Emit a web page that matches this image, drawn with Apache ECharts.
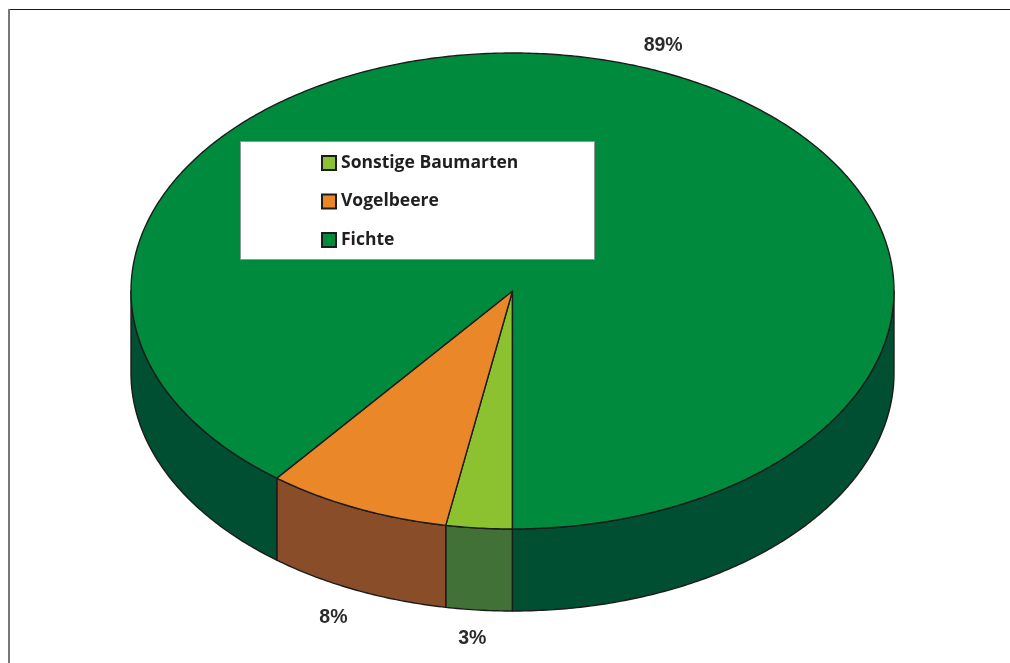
<!DOCTYPE html>
<html><head><meta charset="utf-8">
<style>html,body{margin:0;padding:0;background:#fff}#c{width:1010px;height:663px}</style>
<script src="https://cdn.jsdelivr.net/npm/echarts@6/dist/echarts.min.js"></script>
</head><body><div id="c"></div>
<script>
const categories = ['Sonstige Baumarten', 'Vogelbeere', 'Fichte'];
const values = [2.8, 7.8, 89.4];
const percentLabels = ['3%', '8%', '89%'];
const topColors = ['#8cc22f', '#ea8729', '#008a3e'];
const sideColors = ['#417136', '#8a4d2a', '#004f33'];

const CX = 512.5, CY = 291, RX = 381.5, RY = 238, DEPTH = 82;
const EDGE = '#1c1c1c';
const LABEL_NUDGE = [[0, 2], [8, 4], [1, 4]];
const total = values.reduce((a, b) => a + b, 0);
const pt = (t, dy) => [CX - RX * Math.sin(t), CY + RY * Math.cos(t) + (dy || 0)];

function arc(a, b) {
  const n = Math.max(2, Math.ceil((b - a) / 0.01)), out = [];
  for (let i = 0; i <= n; i++) out.push(a + (b - a) * i / n);
  return out;
}
function sideFace(a, b) {
  const ts = arc(a, b);
  return {
    type: 'polygon',
    shape: { points: ts.map(t => pt(t)).concat(ts.slice().reverse().map(t => pt(t, DEPTH))) },
    silent: true
  };
}
function makeRender(idx) {
  return function () {
    const before = values.slice(0, idx).reduce((a, b) => a + b, 0);
    const a = before / total * 2 * Math.PI;
    const b = (before + values[idx]) / total * 2 * Math.PI;
    const kids = [];
    const Q = Math.PI / 2, T = 3 * Math.PI / 2;
    const ranges = [[a, Math.min(b, Q)], [Math.max(a, T), b]];
    ranges.forEach(r => {
      if (r[1] > r[0]) {
        const f = sideFace(r[0], r[1]);
        f.style = { fill: sideColors[idx], stroke: EDGE, lineWidth: 1.4, lineJoin: 'round' };
        kids.push(f);
      }
    });
    const ts = arc(a, b);
    kids.push({
      type: 'polygon',
      shape: { points: [[CX, CY]].concat(ts.map(t => pt(t))) },
      style: { fill: topColors[idx], stroke: EDGE, lineWidth: 1.4, lineJoin: 'round' }
    });
    const m = (a + b) / 2, front = Math.cos(m) > 0;
    kids.push({
      type: 'text',
      style: {
        text: percentLabels[idx],
        x: CX - RX * 1.2 * Math.sin(m) + LABEL_NUDGE[idx][0],
        y: CY + RY * 1.11 * Math.cos(m) + (front ? DEPTH : 0) + LABEL_NUDGE[idx][1],
        fill: '#2b2b2b',
        font: 'bold 19.5px "Liberation Sans", Arial, sans-serif',
        align: 'center', verticalAlign: 'middle'
      }
    });
    return { type: 'group', children: kids };
  };
}

const chart = echarts.init(document.getElementById('c'), null, { renderer: 'canvas' });
chart.setOption({
  animation: false,
  backgroundColor: '#fff',
  tooltip: { show: false },
  legend: {
    data: categories,
    orient: 'vertical',
    left: 321, top: 154,
    padding: 0,
    itemWidth: 14, itemHeight: 14, itemGap: 20.5,
    icon: 'rect',
    selectedMode: false,
    z: 20,
    textStyle: { color: '#1f1f1f', fontFamily: '"Open Sans", sans-serif', fontWeight: 'bold', fontSize: 17.5, lineHeight: 14 }
  },
  graphic: [
    { type: 'rect', z: 10, silent: true, shape: { x: 240.5, y: 141.5, width: 354, height: 118 },
      style: { fill: '#fff', stroke: '#8a9a94', lineWidth: 1 } },
    { type: 'line', z: 11, silent: true, shape: { x1: 8, y1: 9.5, x2: 1010, y2: 9.5 }, style: { stroke: '#1a1a1a', lineWidth: 1 } },
    { type: 'line', z: 11, silent: true, shape: { x1: 9, y1: 9, x2: 9, y2: 663 }, style: { stroke: '#777', lineWidth: 2 } }
  ],
  series: categories.map((name, i) => ({
    type: 'custom',
    name,
    coordinateSystem: 'none',
    silent: true,
    z: 2,
    itemStyle: { color: topColors[i], borderColor: EDGE, borderWidth: 1 },
    renderItem: makeRender(i),
    data: [values[i]]
  }))
});
</script></body></html>
